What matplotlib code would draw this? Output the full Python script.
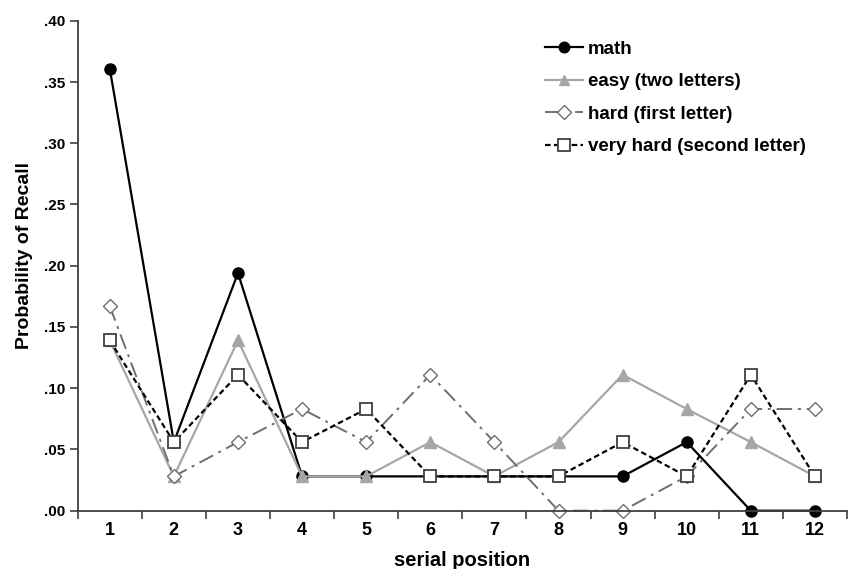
import matplotlib
matplotlib.use("Agg")
import matplotlib.pyplot as plt
from matplotlib.ticker import FixedLocator

plt.rcParams['font.family'] = ['Liberation Sans', 'DejaVu Sans']
plt.rcParams['font.weight'] = 'bold'

positions = list(range(1, 13))
math_vals = [.361, .056, .194, .028, .028, .028, .028, .028, .028, .056, 0, 0]
easy_vals = [.139, .028, .139, .028, .028, .056, .028, .056, .111, .083, .056, .028]
hard_vals = [.167, .028, .056, .083, .056, .111, .056, 0, 0, .028, .083, .083]
vhard_vals = [.139, .056, .111, .056, .083, .028, .028, .028, .056, .028, .111, .028]
y_ticks = [0, .05, .10, .15, .20, .25, .30, .35, .40]
y_labels = ['.00', '.05', '.10', '.15', '.20', '.25', '.30', '.35', '.40']

fig = plt.figure(figsize=(8.51, 5.69), dpi=100)
ax = fig.add_axes([0.0913, 0.1025, 0.904, 0.861])

ax.plot(positions, math_vals, color='black', lw=1.6, marker='o', ms=8,
        mfc='black', mec='black', label='math', clip_on=False)
ax.plot(positions, easy_vals, color='#a6a6a6', lw=1.6, marker='^', ms=8,
        mfc='#a6a6a6', mec='#a6a6a6', label='easy (two letters)', clip_on=False)
ax.plot(positions, hard_vals, color='#6e6e6e', lw=1.4, ls=(0, (8, 3, 1.5, 3)),
        marker='D', ms=7, mfc='white', mec='#6e6e6e', mew=1.0,
        label='hard (first letter)', clip_on=False)
ax.plot(positions, vhard_vals, color='black', lw=1.6, ls=(0, (2.5, 1.5)),
        marker='s', ms=8.5, mfc='white', mec='#404040', mew=1.3,
        label='very hard (second letter)', clip_on=False)

ax.set_xlim(0.5, 12.5)
ax.set_ylim(0, 0.40)
ax.set_xticks(positions)
ax.set_xticklabels([str(p) for p in positions], fontsize=13)
ax.xaxis.set_minor_locator(FixedLocator([p + 0.5 for p in range(0, 13)]))
ax.tick_params(axis='x', which='major', length=0, pad=8)
ax.tick_params(axis='x', which='minor', length=6, width=1.2, color='#404040', direction='out')
ax.set_yticks(y_ticks)
ax.set_yticklabels(y_labels, fontsize=11)
ax.tick_params(axis='y', length=6, width=1.2, color='#404040', direction='out', pad=3)

for s in ['top', 'right']:
    ax.spines[s].set_visible(False)
for s in ['left', 'bottom']:
    ax.spines[s].set_color('#404040')
    ax.spines[s].set_linewidth(1.3)

ax.set_xlabel('serial position', fontsize=14.5, fontweight='bold', labelpad=9)
ax.set_ylabel('Probability of Recall', fontsize=14, fontweight='bold')
ax.yaxis.set_label_coords(-0.058, 0.52)

leg = ax.legend(loc='upper left', bbox_to_anchor=(0.586, 0.994), frameon=False,
                fontsize=13.5, handlelength=2.0, handletextpad=0.27, labelspacing=0.82,
                markerscale=0.95)

fig.savefig('out.png', dpi=100)
